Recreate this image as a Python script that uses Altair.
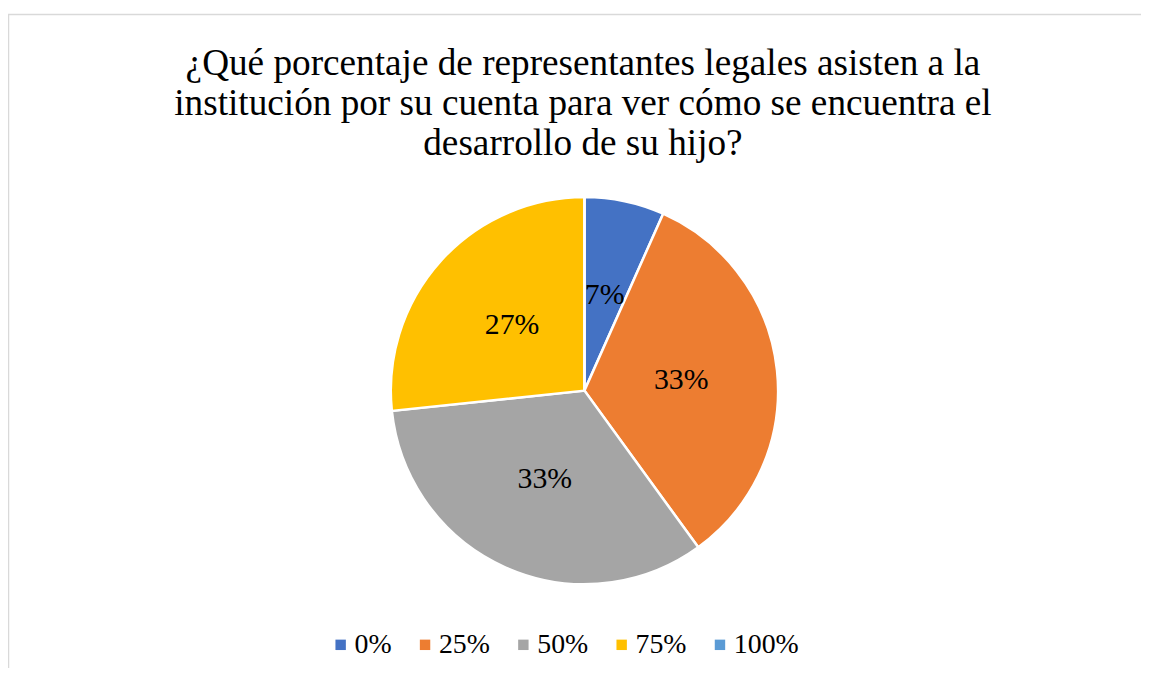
import altair as alt
import pandas as pd

categories = ["0%", "25%", "50%", "75%", "100%"]
counts = [1, 5, 5, 4, 0]
colors = ["#4472C4", "#ED7D31", "#A5A5A5", "#FFC000", "#5B9BD5"]
title_lines = [
    "¿Qué porcentaje de representantes legales asisten a la",
    "institución por su cuenta para ver cómo se encuentra el",
    "desarrollo de su hijo?",
]

df = pd.DataFrame({"cat": categories, "count": counts, "idx": list(range(len(categories)))})
FONT = "Liberation Serif"
W, H = 1121, 438

base = alt.Chart(df).transform_joinaggregate(total="sum(count)").transform_calculate(
    pct="datum.count / datum.total"
)

pie = base.mark_arc(radius=195, stroke="white", strokeWidth=2.5).encode(
    theta=alt.Theta("count:Q", stack=True),
    color=alt.Color(
        "cat:N",
        sort=categories,
        scale=alt.Scale(domain=categories, range=colors),
        legend=alt.Legend(
            title=None,
            orient="none",
            direction="horizontal",
            legendX=301,
            legendY=461,
            symbolType="square",
            symbolSize=110,
            symbolStrokeWidth=0,
            labelFont=FONT,
            labelFontSize=28,
            labelColor="#000000",
            labelOffset=0,
            columnPadding=19,
        ),
    ),
    order=alt.Order("idx:Q"),
)

labels = base.transform_filter("datum.count > 0").mark_text(
    radius=98, font=FONT, fontSize=30, color="#000000"
).encode(
    theta=alt.Theta("count:Q", stack=True),
    order=alt.Order("idx:Q"),
    text=alt.Text("pct:Q", format=".0%"),
)

one = pd.DataFrame({"a": [0]})
title_df = pd.DataFrame({"t": [title_lines]})

title = alt.Chart(title_df).mark_text(
    font=FONT, fontSize=37.5, color="#000000", lineHeight=40.5,
    align="center", baseline="middle"
).encode(
    text="t",
    x=alt.value(559),
    y=alt.value(-110),
)

top_rule = alt.Chart(one).mark_rule(color="#d9d9d9", strokeWidth=1.5).encode(
    x=alt.value(-20), x2=alt.value(1200), y=alt.value(-159.7)
)
left_rule = alt.Chart(one).mark_rule(color="#d9d9d9", strokeWidth=1.5).encode(
    x=alt.value(-19.5), y=alt.value(-159.7), y2=alt.value(700)
)

chart = alt.layer(top_rule, left_rule, title, pie, labels).properties(
    width=W,
    height=H,
    padding={"left": 20, "top": 164, "right": 0, "bottom": 58},
    autosize=alt.AutoSizeParams(type="none"),
).configure_view(stroke=None)

chart.save("out.html", embed_options={"renderer": "svg", "actions": False})
